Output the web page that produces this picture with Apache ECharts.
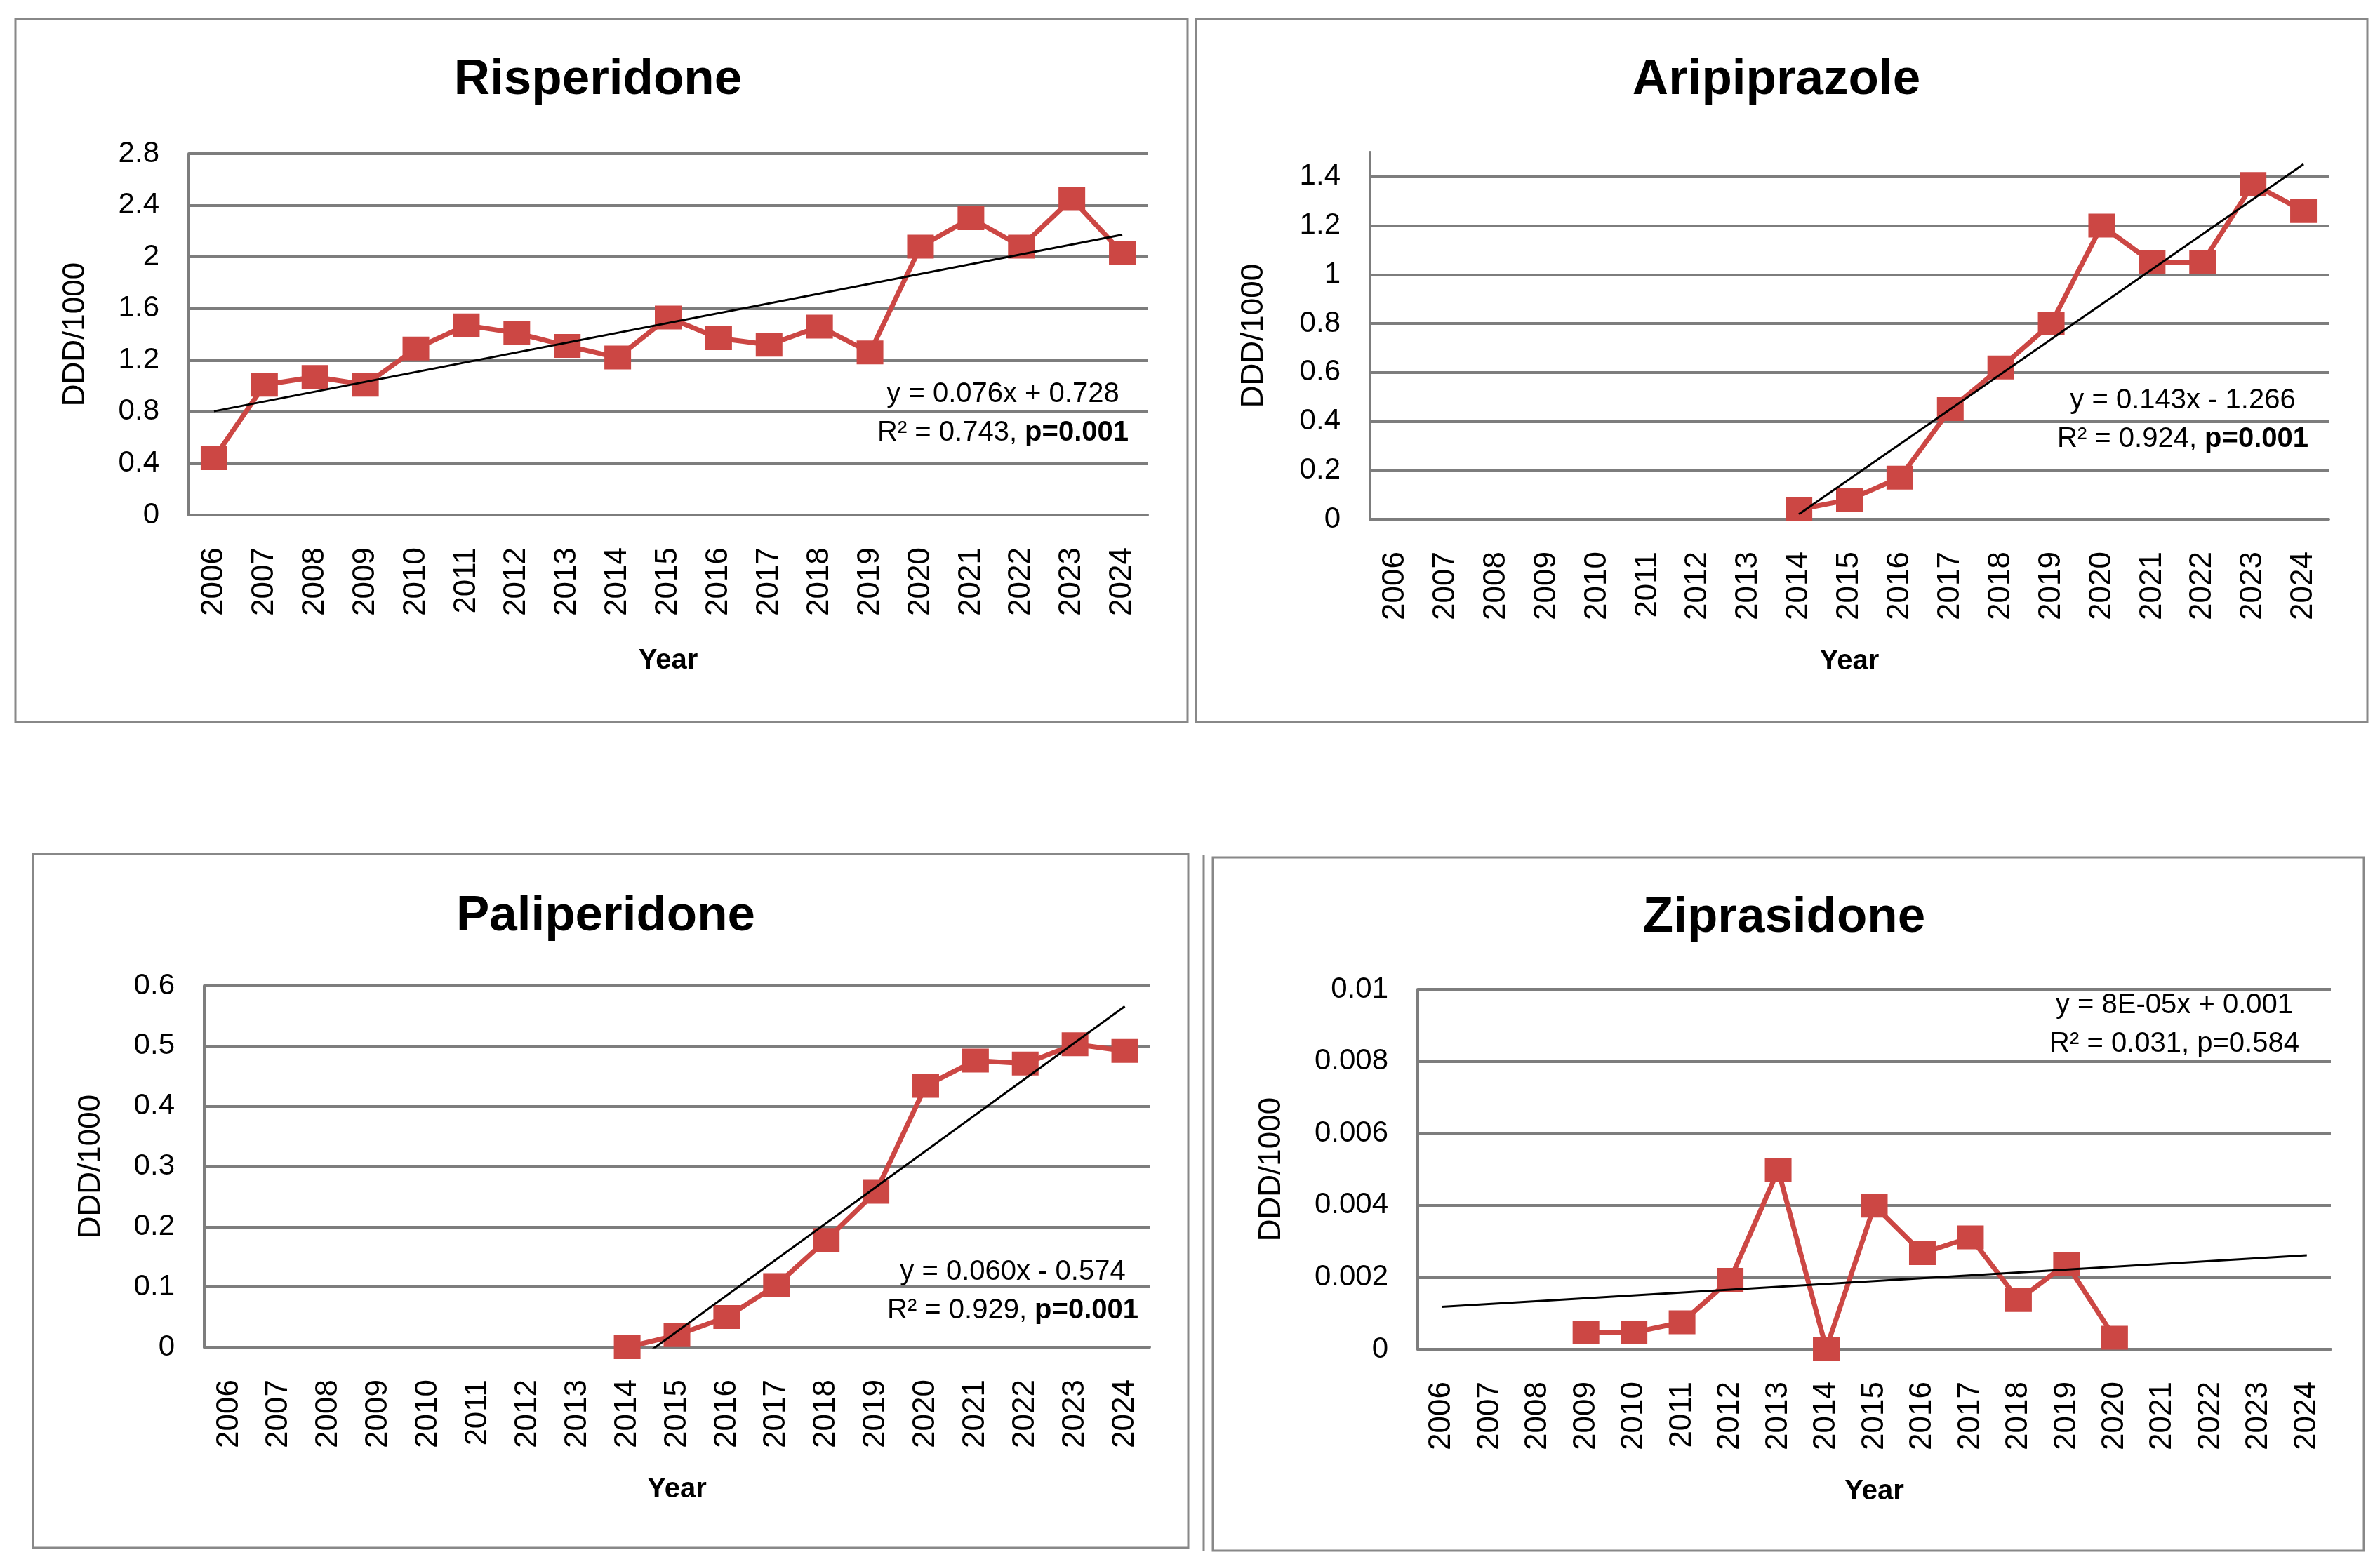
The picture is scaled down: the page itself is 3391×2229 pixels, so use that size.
<!DOCTYPE html>
<html>
<head>
<meta charset="utf-8">
<script src="https://cdn.jsdelivr.net/npm/echarts@6/dist/echarts.min.js"></script>
<style>
  html, body { margin: 0; padding: 0; background: #fff; }
  #main { width: 3391px; height: 2229px; }
</style>
</head>
<body>
<div id="main"></div>
<script>
// years on the x axis
var years = ['2006', '2007', '2008', '2009', '2010', '2011', '2012', '2013', '2014', '2015',
  '2016', '2017', '2018', '2019', '2020', '2021', '2022', '2023', '2024'];

// DDD/1000 per drug (null = no data that year)
var risperidone = [0.44, 1.01, 1.07, 1.01, 1.29, 1.47, 1.41, 1.31, 1.22, 1.53,
  1.37, 1.32, 1.46, 1.26, 2.08, 2.30, 2.08, 2.45, 2.03];
var aripiprazole = [null, null, null, null, null, null, null, null, 0.04, 0.08,
  0.17, 0.45, 0.62, 0.80, 1.20, 1.05, 1.05, 1.37, 1.26];
var paliperidone = [null, null, null, null, null, null, null, null, 0.00, 0.02,
  0.05, 0.103, 0.178, 0.258, 0.434, 0.476, 0.471, 0.503, 0.492];
var ziprasidone = [null, null, null, 0.00047, 0.00047, 0.00075, 0.00193, 0.00498, 0.00002, 0.00399,
  0.00267, 0.00311, 0.00137, 0.00238, 0.00032, null, null, null, null];

// linear trend lines, endpoints
var risperidoneTrend = [['2006', 0.804], ['2024', 2.172]];
var aripiprazoleTrend = [['2014', 0.021], ['2024', 1.451]];
var paliperidoneTrend = [['2014', -0.034], ['2024', 0.566]];
var ziprasidoneTrend = [['2006', 0.00118], ['2024', 0.00261]];

// panel texts
var drugNames = ['Risperidone', 'Aripiprazole', 'Paliperidone', 'Ziprasidone'];
var equations = ['y = 0.076x + 0.728', 'y = 0.143x - 1.266', 'y = 0.060x - 0.574', 'y = 8E-05x + 0.001'];
var fitStats = ['R\u00b2 = 0.743, ', 'R\u00b2 = 0.924, ', 'R\u00b2 = 0.929, ', 'R\u00b2 = 0.031, '];
var pValues = ['p=0.001', 'p=0.001', 'p=0.001', 'p=0.584'];
var pBold = [true, true, true, false];

// y axis scales
var yMax = [2.8, 1.5, 0.6, 0.01];
var yStep = [0.4, 0.2, 0.1, 0.002];

var seriesData = [risperidone, aripiprazole, paliperidone, ziprasidone];
var trendData = [risperidoneTrend, aripiprazoleTrend, paliperidoneTrend, ziprasidoneTrend];

var chart = echarts.init(document.getElementById('main'), null, { renderer: 'canvas' });

var FONT = '"Liberation Sans", Arial, sans-serif';
var GRAY = '#7d7d7d';
var RED = '#CC4744';

// plot rectangles [left, top, width, height]
var grids = [
  [269, 219, 1366, 515],
  [1952, 217, 1366, 523],
  [291, 1405, 1347, 515],
  [2020, 1410, 1301, 513]
];
var yNameGap = [139, 143, 139, 186];
var titlePos = [[852, 114], [2531, 114], [863, 1306], [2542, 1308]];
var notePos = [[1429, 562], [3110, 571], [1443, 1813], [3098, 1433]];

var gridOpt = [], xAxes = [], yAxes = [], series = [], graphics = [];

for (var i = 0; i < 4; i++) {
  var g = grids[i];
  gridOpt.push({ left: g[0], top: g[1], width: g[2], height: g[3], containLabel: false });

  xAxes.push({
    type: 'category', gridIndex: i, data: years, boundaryGap: true,
    name: 'Year', nameLocation: 'middle', nameGap: 183 + (i === 0 ? 5 : 0),
    nameTextStyle: { fontFamily: FONT, fontSize: 40, fontWeight: 'bold', color: '#000' },
    axisLine: { show: true, lineStyle: { color: GRAY, width: 4 } },
    axisTick: { show: false },
    axisLabel: { rotate: 90, margin: 46, fontFamily: FONT, fontSize: 44, color: '#000', interval: 0 },
    splitLine: { show: false }
  });

  yAxes.push({
    type: 'value', gridIndex: i, min: 0, max: yMax[i], interval: yStep[i],
    name: 'DDD/1000', nameLocation: 'middle', nameGap: yNameGap[i], nameRotate: 90,
    nameTextStyle: { fontFamily: FONT, fontSize: 44, color: '#000' },
    axisLine: { show: true, lineStyle: { color: GRAY, width: 4 } },
    axisTick: { show: false },
    axisLabel: { margin: 42, fontFamily: FONT, fontSize: 42, color: '#000', showMaxLabel: i !== 1 },
    splitLine: { show: true, showMaxLine: i !== 1, lineStyle: { color: GRAY, width: 4 } }
  });

  series.push({
    type: 'line', xAxisIndex: i, yAxisIndex: i, data: seriesData[i],
    symbol: 'rect', symbolSize: [38, 34], showSymbol: true,
    itemStyle: { color: RED }, lineStyle: { color: RED, width: 7 },
    connectNulls: false, animation: false, z: 3
  });
  series.push({
    type: 'line', xAxisIndex: i, yAxisIndex: i, data: trendData[i],
    showSymbol: false, symbol: 'none', clip: true,
    lineStyle: { color: '#000', width: 3 }, animation: false, z: 4
  });

  graphics.push({
    type: 'text', x: titlePos[i][0], y: titlePos[i][1],
    style: { text: drugNames[i], align: 'center', verticalAlign: 'middle',
      fontFamily: FONT, fontSize: 71, fontWeight: 'bold', fill: '#000' }
  });
  graphics.push({
    type: 'text', x: notePos[i][0], y: notePos[i][1],
    style: { text: equations[i], align: 'center', verticalAlign: 'middle',
      fontFamily: FONT, fontSize: 40, fill: '#000' }
  });
  graphics.push({
    type: 'text', x: notePos[i][0], y: notePos[i][1] + 55,
    style: {
      text: '{n|' + fitStats[i] + '}{' + (pBold[i] ? 'b' : 'n') + '|' + pValues[i] + '}',
      align: 'center', verticalAlign: 'middle', fill: '#000',
      rich: {
        n: { fontFamily: FONT, fontSize: 40, fill: '#000' },
        b: { fontFamily: FONT, fontSize: 40, fontWeight: 'bold', fill: '#000' }
      }
    }
  });
}

// panel frames
var frames = [
  [22, 27, 1670, 1002],
  [1704, 27, 1669, 1002],
  [47, 1217, 1646, 989],
  [1728, 1222, 1640, 988]
];
frames.forEach(function (f) {
  graphics.push({
    type: 'rect', shape: { x: f[0], y: f[1], width: f[2], height: f[3] },
    style: { fill: 'none', stroke: '#888', lineWidth: 3 }, silent: true
  });
});
graphics.push({
  type: 'line', shape: { x1: 1715, y1: 1218, x2: 1715, y2: 2210 },
  style: { stroke: '#888', lineWidth: 3 }, silent: true
});

chart.setOption({
  backgroundColor: '#fff',
  animation: false,
  grid: gridOpt,
  xAxis: xAxes,
  yAxis: yAxes,
  series: series,
  graphic: graphics
});
</script>
</body>
</html>
